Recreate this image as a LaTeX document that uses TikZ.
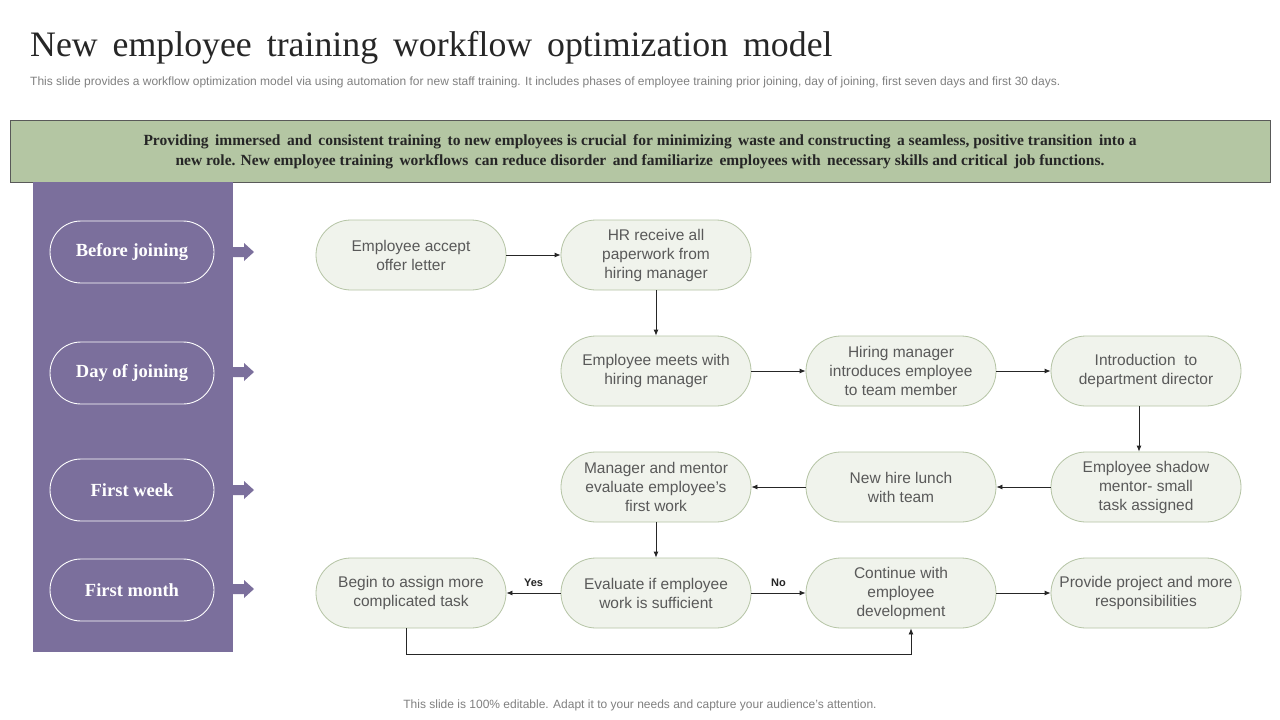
\documentclass[tikz,border=0pt]{standalone}
\usepackage{fontspec}
\setmainfont{Liberation Serif}
\setsansfont{Liberation Sans}
\usetikzlibrary{arrows.meta}
\definecolor{purp}{HTML}{7B6F9C}
\definecolor{bann}{HTML}{B4C6A3}
\definecolor{nodefill}{HTML}{F0F3EC}
\definecolor{nodeline}{HTML}{B5C4A5}
\definecolor{txtgray}{HTML}{595959}
\definecolor{subgray}{HTML}{808080}
\begin{document}
\begin{tikzpicture}[x=1pt,y=-1pt,
  flow/.style={draw=nodeline, fill=nodefill, line width=0.8pt, rounded corners=35pt,
    minimum width=190pt, minimum height=70pt, inner sep=0pt, align=center,
    text=txtgray, font=\sffamily\fontsize{15.5}{19}\selectfont},
  phase/.style={draw=white, line width=0.9pt, rounded corners=31pt,
    minimum width=164pt, minimum height=62pt, inner sep=0pt, align=center,
    text=white, font=\bfseries\fontsize{18.5}{21}\selectfont},
  conn/.style={draw=black!85, line width=0.8pt, -{Latex[length=6pt,width=5pt]}},
  lbl/.style={font=\sffamily\bfseries\fontsize{11}{13}\selectfont, text=black!85},
  blockarrow/.style={fill=purp, draw=none}]
\useasboundingbox (0,0) rectangle (1280,720);
\fill[white] (0,0) rectangle (1280,720);

% title and subtitle
\node[anchor=base west, inner sep=0pt, font=\fontsize{35.8}{40}\selectfont, text=black!85] (title) at (30,56)
  {New\, employee\, training\, workflow\, optimization\, model};
\node[anchor=base west, inner sep=0pt, font=\sffamily\fontsize{12}{14}\selectfont, text=subgray] (sub) at (30,85)
  {This slide provides a workflow optimization model via using automation for new staff training. It includes phases of employee training prior joining, day of joining, first seven days and first 30 days.};

% banner
\node[draw=black!65, fill=bann, line width=0.8pt, minimum width=1260pt, minimum height=62pt, inner sep=0pt] (banner) at (640,151) {};
\node[align=center, font=\bfseries\fontsize{15.5}{20}\selectfont, text=black!85, inner sep=0pt] (bantext) at (640,152)
  {Providing\, immersed\, and\, consistent training\, to new employees is crucial\, for minimizing\, waste and constructing\, a seamless, positive transition\, into a\\
   new role. New employee training\, workflows\, can reduce disorder\, and familiarize\, employees with\, necessary skills and critical\, job functions.};

% purple panel
\fill[purp] (33,182) rectangle (233,652);
\node[phase] (p1) at (132,252) {Before joining};
\node[phase] (p2) at (132,373) {Day of joining};
\node[phase] (p3) at (132,490) {First week};
\node[phase] (p4) at (132,590) {First month};
\foreach \yy in {252,372,490,589}{
  \fill[blockarrow] (233,\yy-5) -- (244,\yy-5) -- (244,\yy-9) -- (254,\yy) -- (244,\yy+9) -- (244,\yy+5) -- (233,\yy+5) -- cycle;
}

% flow nodes
\node[flow] (A1) at (411,255) {Employee accept\\offer letter};
\node[flow] (B1) at (656,255) {HR receive all\\paperwork from\\hiring manager};
\node[flow] (B2) at (656,371) {Employee meets with\\hiring manager};
\node[flow] (C2) at (901,371) {Hiring manager\\introduces employee\\to team member};
\node[flow] (D2) at (1146,371) {Introduction\ \ to\\department director};
\node[flow] (D3) at (1146,487) {Employee shadow\\mentor- small\\task assigned};
\node[flow] (C3) at (901,487) {New hire lunch\\with team};
\node[flow] (B3) at (656,487) {Manager and mentor\\evaluate employee’s\\first work};
\node[flow] (B4) at (656,593) {Evaluate if employee\\work is sufficient};
\node[flow] (A4) at (411,593) {Begin to assign more\\complicated task};
\node[flow] (C4) at (901,593) {Continue with\\employee\\development};
\node[flow] (D4) at (1146,593) {Provide project and more\\responsibilities};

% connectors
\draw[conn] (A1.east) -- (B1.west);
\draw[conn] (B1.south) -- (B2.north);
\draw[conn] (B2.east) -- (C2.west);
\draw[conn] (C2.east) -- (D2.west);
\draw[conn] ([xshift=-7pt]D2.south) -- ([xshift=-7pt]D3.north);
\draw[conn] (D3.west) -- (C3.east);
\draw[conn] (C3.west) -- (B3.east);
\draw[conn] (B3.south) -- (B4.north);
\draw[conn] (B4.west) -- node[lbl, above=3pt] (yes) {Yes} (A4.east);
\draw[conn] (B4.east) -- node[lbl, above=3pt] (no) {No} (C4.west);
\draw[conn] (C4.east) -- (D4.west);
\coordinate (loopL) at ([xshift=-5pt, yshift=-26pt]A4.south);
\draw[conn] ([xshift=-5pt]A4.south) -- (loopL) -| ([xshift=10pt]C4.south);

% footer
\node[font=\sffamily\fontsize{12}{14}\selectfont, text=subgray, inner sep=0pt] (foot) at (640,705)
  {This slide is 100\% editable. Adapt it to your needs and capture your audience’s attention.};
\end{tikzpicture}
\end{document}
